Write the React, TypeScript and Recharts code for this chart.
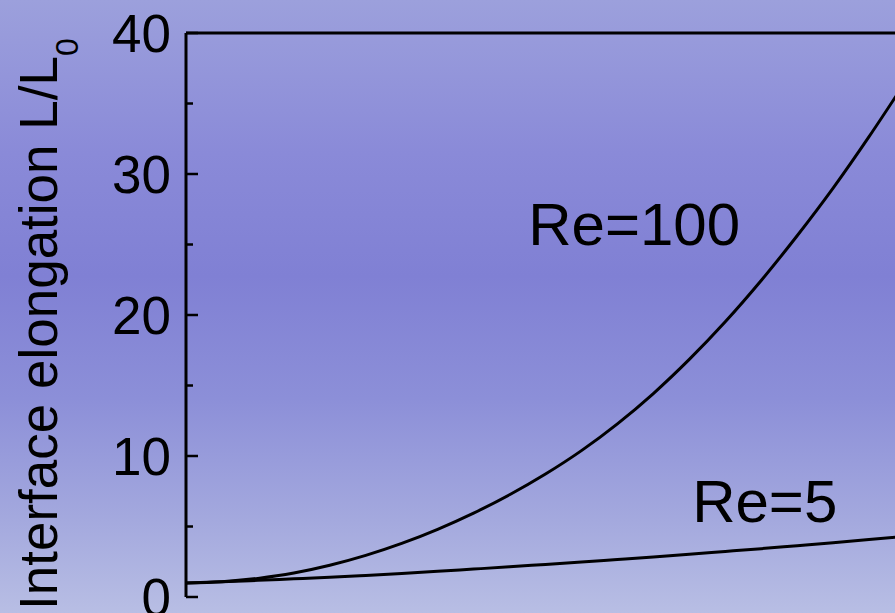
import { LineChart, Line, XAxis, YAxis, ReferenceLine, ReferenceDot } from "recharts";

// dimensionless time (arbitrary units, right edge of plot is cut off)
const times = [0, 0.5, 1, 1.5, 2, 2.5, 3, 3.5, 4, 4.5, 5, 5.5, 6, 6.5, 7, 7.5, 8, 8.5, 9, 9.5, 10];
const re100 = [1.0, 1.08, 1.32, 1.7, 2.25, 2.95, 3.8, 4.8, 5.95, 7.25, 8.72, 10.38, 12.28, 14.43, 16.85, 19.52, 22.45, 25.62, 29.0, 32.65, 36.5];
const re5 = [1.0, 1.08, 1.18, 1.29, 1.4, 1.53, 1.67, 1.82, 1.98, 2.14, 2.31, 2.48, 2.66, 2.84, 3.03, 3.23, 3.43, 3.64, 3.85, 4.07, 4.3];
const yTicks = [0, 5, 10, 15, 20, 25, 30, 35, 40];

const data = times.map((t, i) => ({ t, re100: re100[i], re5: re5[i] }));

const FONT = "'Liberation Sans', Arial, Helvetica, sans-serif";

const YTick = (props: any) => {
    const { x, y, payload } = props;
    const major = payload.value % 10 === 0;
    const axisX = x + 15;
    return (
        <g>
            <line x1={axisX} x2={axisX + (major ? 12 : 7)} y1={y} y2={y} stroke="#000" strokeWidth={2.5} />
            {major && (
                <text x={x} y={y} dy="0.355em" textAnchor="end" fontSize={53} fontFamily={FONT} fill="#000">
                    {payload.value}
                </text>
            )}
        </g>
    );
};

const YLabel = () => (
    <text x={57} y={610} transform="rotate(-90 57 610)" fontSize={53} fontFamily={FONT} fill="#000">
        Interface elongation L/L
        <tspan fontSize={32} dy={21}>0</tspan>
    </text>
);

const curveLabel = (text: string) => (props: any) => {
    const vb = props.viewBox;
    return (
        <text x={vb.x + 1} y={vb.y + 1} fontSize={60} fontFamily={FONT} fill="#000">
            {text}
        </text>
    );
};

export default function App() {
    return (
        <div
            style={{
                position: "fixed",
                left: 0,
                top: 0,
                width: 895,
                height: 613,
                overflow: "hidden",
                background: "linear-gradient(to bottom, #9ca0dc 0%, #8a8ad8 25%, #8080d4 45%, #8c8fd8 65%, #a4a9de 85%, #b8bee4 100%)",
            }}
        >
            <LineChart width={910} height={613} data={data} margin={{ top: 33, right: 5, bottom: 16, left: 0 }}>
                <XAxis dataKey="t" type="number" domain={[0, 10]} tick={false} height={0} axisLine={{ stroke: "#000", strokeWidth: 3 }} tickLine={false} />
                <YAxis
                    type="number"
                    domain={[0, 40]}
                    ticks={yTicks}
                    interval={0}
                    width={186}
                    tickSize={15}
                    tickMargin={0}
                    tickLine={false}
                    axisLine={{ stroke: "#000", strokeWidth: 3 }}
                    tick={<YTick />}
                    label={<YLabel />}
                />
                <ReferenceLine y={40} stroke="#000" strokeWidth={3} />
                <Line type="monotone" dataKey="re100" stroke="#000" strokeWidth={3} dot={false} isAnimationActive={false} />
                <Line type="monotone" dataKey="re5" stroke="#000" strokeWidth={3} dot={false} isAnimationActive={false} />
                <ReferenceDot x={4.76} y={24.96} r={1} fill="none" stroke="none" label={curveLabel("Re=100")} />
                <ReferenceDot x={7.04} y={5.32} r={1} fill="none" stroke="none" label={curveLabel("Re=5")} />
            </LineChart>
        </div>
    );
}
